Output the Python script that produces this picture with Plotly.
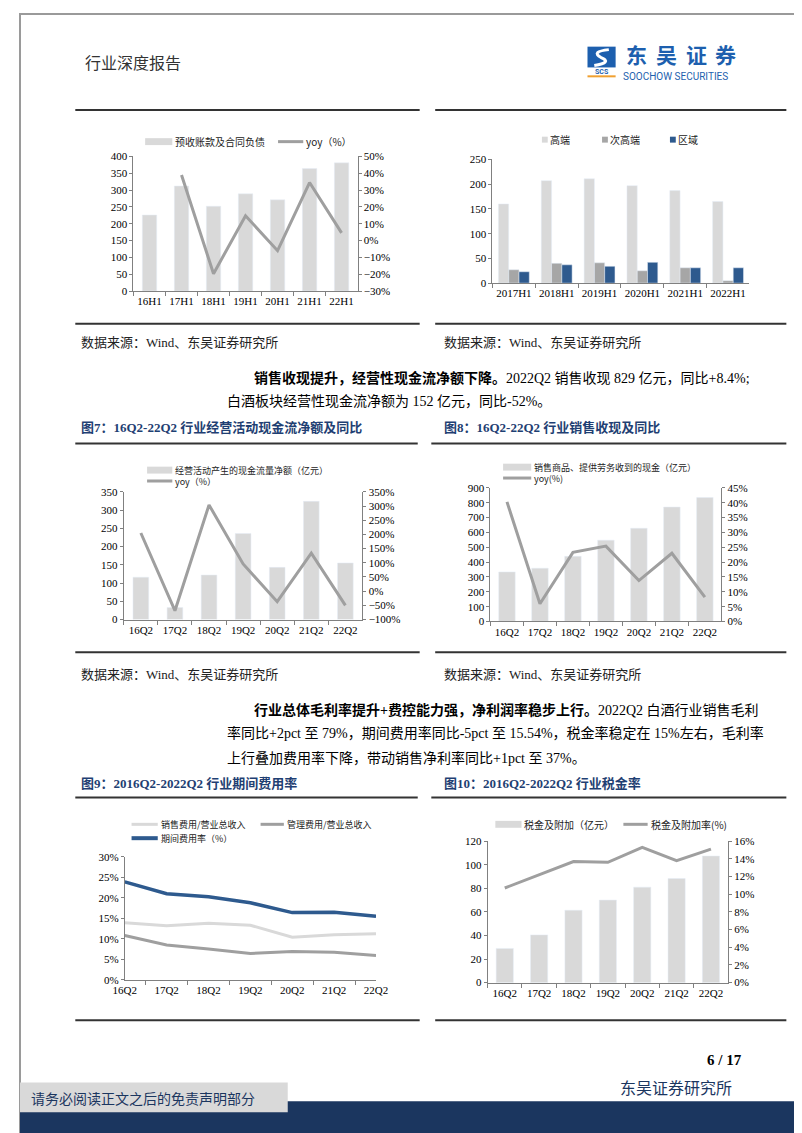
import plotly.graph_objects as go

W, H = 802, 1133


def px(x):
    return x / W


def py(y):
    return 1 - y / H


# ---- data ----
h1_labels = ["16H1", "17H1", "18H1", "19H1", "20H1", "21H1", "22H1"]
advance_receipts = [226, 312, 252, 289, 271, 364, 381]
advance_yoy = [None, 39.0, -19.7, 14.8, -6.0, 34.5, 4.6]

tier_labels = ["2017H1", "2018H1", "2019H1", "2020H1", "2021H1", "2022H1"]
high_end = [160, 207, 211, 197, 187, 165]
sub_high_end = [27, 40, 41, 25, 31, 5]
regional = [23, 37, 34, 42, 31, 31]

q2_labels = ["16Q2", "17Q2", "18Q2", "19Q2", "20Q2", "21Q2", "22Q2"]
op_cash_flow = [116, 33, 122, 236, 143, 324, 155]
op_cash_yoy = [205, -69, 304, 96, -37, 134, -50]
sales_cash = [334, 359, 439, 548, 628, 771, 835]
sales_cash_yoy = [40.3, 6.0, 23.3, 25.4, 13.8, 23.0, 8.2]
selling_ratio = [13.9, 13.2, 13.8, 13.3, 10.4, 11.0, 11.2]
admin_ratio = [10.8, 8.5, 7.5, 6.4, 6.9, 6.7, 5.9]
period_ratio = [23.9, 21.0, 20.3, 18.8, 16.4, 16.5, 15.5]
tax_surcharge = [29, 40.5, 61.4, 70, 81, 88.3, 107.4]
tax_rate = [10.7, 12.2, 13.7, 13.6, 15.3, 13.8, 15.1]

BAR = "#d9d9d9"
MID = "#a6a6a6"
LINE = "#9f9f9f"
BLUE = "#2e5a8e"
NAVY = "#1b365f"
AX = "#808080"
SERIF = "Liberation Serif, Noto Sans CJK SC"
CJK = "Noto Sans CJK SC"
TICKF = dict(family=SERIF, size=11, color="#000")

fig = go.Figure()

# chart 1
fig.add_trace(go.Bar(x=h1_labels, y=advance_receipts, marker_color=BAR, width=0.45, xaxis="x", yaxis="y"))
fig.add_trace(go.Scatter(x=h1_labels, y=advance_yoy, mode="lines", line=dict(color=LINE, width=3), xaxis="x", yaxis="y2"))
# chart 2
for vals, col, off in [(high_end, BAR, -0.36), (sub_high_end, MID, -0.12), (regional, BLUE, 0.12)]:
    fig.add_trace(go.Bar(x=tier_labels, y=vals, marker_color=col, width=0.24, offset=off, xaxis="x2", yaxis="y3"))
# chart 3
fig.add_trace(go.Bar(x=q2_labels, y=op_cash_flow, marker_color=BAR, width=0.46, xaxis="x3", yaxis="y4"))
fig.add_trace(go.Scatter(x=q2_labels, y=op_cash_yoy, mode="lines", line=dict(color=LINE, width=3), xaxis="x3", yaxis="y5"))
# chart 4
fig.add_trace(go.Bar(x=q2_labels, y=sales_cash, marker_color=BAR, width=0.5, xaxis="x4", yaxis="y6"))
fig.add_trace(go.Scatter(x=q2_labels, y=sales_cash_yoy, mode="lines", line=dict(color=LINE, width=3), xaxis="x4", yaxis="y7"))
# chart 5
fig.add_trace(go.Scatter(x=q2_labels, y=selling_ratio, mode="lines", line=dict(color=BAR, width=3), xaxis="x5", yaxis="y8"))
fig.add_trace(go.Scatter(x=q2_labels, y=admin_ratio, mode="lines", line=dict(color=LINE, width=3), xaxis="x5", yaxis="y8"))
fig.add_trace(go.Scatter(x=q2_labels, y=period_ratio, mode="lines", line=dict(color=BLUE, width=3.5), xaxis="x5", yaxis="y8"))
# chart 6
fig.add_trace(go.Bar(x=q2_labels, y=tax_surcharge, marker_color=BAR, width=0.5, xaxis="x6", yaxis="y9"))
fig.add_trace(go.Scatter(x=q2_labels, y=tax_rate, mode="lines", line=dict(color=LINE, width=3), xaxis="x6", yaxis="y10"))


def xcfg(x0, x1, anchor):
    return dict(domain=[px(x0), px(x1)], anchor=anchor, type="category", showline=True, linecolor=AX,
                ticks="outside", tickson="boundaries", ticklen=4, tickcolor=AX, tickfont=TICKF,
                tickangle=0, showgrid=False, zeroline=False)


def ycfg(y0, y1, anchor, rng, dtick, suffix="", side="left", overlaying=None):
    d = dict(domain=[py(y1), py(y0)], anchor=anchor, range=rng, dtick=dtick, ticksuffix=suffix,
             side=side, showline=True, linecolor=AX, ticks="outside", ticklen=3, tickcolor=AX,
             tickfont=TICKF, showgrid=False, zeroline=False)
    if overlaying:
        d["overlaying"] = overlaying
    return d


layout = dict(
    width=W, height=H, margin=dict(l=0, r=0, t=0, b=0),
    paper_bgcolor="white", plot_bgcolor="rgba(0,0,0,0)",
    showlegend=False, barmode="overlay",
    xaxis=xcfg(117, 348, "y"),
    yaxis=ycfg(144, 280, "x", [0, 400], 50),
    yaxis2=ycfg(144, 280, "x", [-30, 50], 10, "%", "right", "y"),
    xaxis2=xcfg(487, 752, "y3"),
    yaxis3=ycfg(147, 272, "x2", [0, 250], 50),
    xaxis3=xcfg(107, 353, "y4"),
    yaxis4=ycfg(483, 612, "x3", [0, 350], 50),
    yaxis5=ycfg(483, 612, "x3", [-100, 350], 50, "%", "right", "y4"),
    xaxis4=xcfg(485, 723, "y6"),
    yaxis6=ycfg(479, 614, "x4", [0, 900], 100),
    yaxis7=ycfg(479, 614, "x4", [0, 45], 5, "%", "right", "y6"),
    xaxis5=xcfg(108, 367, "y8"),
    yaxis8=ycfg(852, 976, "x5", [0, 30], 5, "%"),
    xaxis6=xcfg(482, 730, "y9"),
    yaxis9=ycfg(836, 979, "x6", [0, 120], 20),
    yaxis10=ycfg(836, 979, "x6", [0, 16], 2, "%", "right", "y9"),
)
fig.update_layout(**layout)

shapes = []
annots = []


def hline(x0, x1, y, color="#333", w=2):
    shapes.append(dict(type="line", xref="paper", yref="paper", x0=px(x0), x1=px(x1), y0=py(y), y1=py(y),
                       line=dict(color=color, width=w)))


def rect(x0, y0, x1, y1, color, line=None):
    shapes.append(dict(type="rect", xref="paper", yref="paper", x0=px(x0), x1=px(x1), y0=py(y1), y1=py(y0),
                       fillcolor=color, line=dict(width=0) if line is None else line, layer="below"))


def text(x, y, s, size=10, color="#000", family=CJK, anchor="left", bold=False):
    if bold:
        s = "<b>" + s + "</b>"
    annots.append(dict(xref="paper", yref="paper", x=px(x), y=py(y), text=s, showarrow=False,
                       xanchor=anchor, yanchor="middle", borderpad=0,
                       font=dict(family=family, size=size, color=color)))


def leg_bar(x0, x1, y, color, s, h=7, size=10):
    rect(x0, y - h / 2, x1, y + h / 2, color)
    text(x1 + 2, y, s, size, "#222")


def leg_line(x0, x1, y, color, s, w=3, size=10):
    shapes.append(dict(type="line", xref="paper", yref="paper", x0=px(x0), x1=px(x1), y0=py(y), y1=py(y),
                       line=dict(color=color, width=w)))
    text(x1 + 2, y, s, size, "#222")


# page frame
rect(0, 0, W, H, "rgba(0,0,0,0)", line=dict(color="#9a9a9a", width=2))

# header
text(66, 49, "行业深度报告", 16, "#333")
rect(585, 33, 614, 54, "#1d5fae")
shapes.append(dict(type="path", xref="paper", yref="paper",
                   path="M %f %f Q %f %f %f %f Q %f %f %f %f" % (
                       px(607), py(36), px(588), py(38), px(599), py(44),
                       px(611), py(49), px(592), py(52)),
                   line=dict(color="white", width=3)))
text(599.5, 58.5, "SCS", 7, "#1d5fae", "Roboto", "center", bold=True)
hline(585, 614, 63, "#f0a030", 2)
for i, ch in enumerate("东吴证券"):
    text(636 + i * 30.5, 40, ch, 21, "#1d5fae", anchor="center", bold=True)
text(621, 63, "SOOCHOW SECURITIES", 10, "#1d5fae", "Roboto")

for y in (97, 313, 645, 1017):
    hline(57, 412, y)
    hline(428, 790, y)
hline(57, 410, 434)
hline(424, 790, 434)
hline(57, 410, 792)
hline(424, 790, 792)

# chart legends
leg_bar(129, 157, 129, BAR, "预收账款及合同负债")
leg_line(266, 292, 129, LINE, "yoy（%）")
for x, col, s in [(538, BAR, "高端"), (600, MID, "次高端"), (670, BLUE, "区域")]:
    rect(x, 124, x + 6, 130, col)
    text(x + 7, 127, s, 10, "#222")
leg_bar(131, 157, 461, BAR, "经营活动产生的现金流量净额（亿元）", 7, 9)
leg_line(131, 157, 472, LINE, "yoy（%）", 3, 9)
leg_bar(498, 527, 458, BAR, "销售商品、提供劳务收到的现金（亿元）", 7, 9)
leg_line(498, 527, 469, LINE, "yoy(%)", 3, 9)
leg_line(115, 142, 819, BAR, "销售费用/营业总收入", 3, 9)
leg_line(248, 272, 819, LINE, "管理费用/营业总收入", 3, 9)
leg_line(115, 142, 833, BLUE, "期间费用率（%）", 4, 9)
leg_bar(490, 517, 819, BAR, "税金及附加（亿元）")
leg_line(622, 647, 819, LINE, "税金及附加率(%)")

# source lines
for y in (332, 668):
    text(62, y, "数据来源：Wind、东吴证券研究所", 13, "#222", SERIF)
    text(436, y, "数据来源：Wind、东吴证券研究所", 13, "#222", SERIF)

# body text
text(240, 368, "<b>销售收现提升，经营性现金流净额下降。</b>2022Q2 销售收现 829 亿元，同比+8.4%;", 14, "#000", SERIF)
text(212, 392, "白酒板块经营性现金流净额为 152 亿元，同比-52%。", 14, "#000", SERIF)
text(240, 703, "<b>行业总体毛利率提升+费控能力强，净利润率稳步上行。</b>2022Q2 白酒行业销售毛利", 14, "#000", SERIF)
text(212, 727, "率同比+2pct 至 79%，期间费用率同比-5pct 至 15.54%，税金率稳定在 15%左右，毛利率", 14, "#000", SERIF)
text(212, 752, "上行叠加费用率下降，带动销售净利率同比+1pct 至 37%。", 14, "#000", SERIF)

# figure titles
TITLE = "#1f3f73"
text(62, 418, "图7：16Q2-22Q2 行业经营活动现金流净额及同比", 13, TITLE, SERIF, bold=True)
text(436, 418, "图8：16Q2-22Q2 行业销售收现及同比", 13, TITLE, SERIF, bold=True)
text(62, 778, "图9：2016Q2-2022Q2 行业期间费用率", 13, TITLE, SERIF, bold=True)
text(436, 778, "图10：2016Q2-2022Q2 行业税金率", 13, TITLE, SERIF, bold=True)

# footer
text(745, 1057, "6 / 17", 15, "#000", SERIF, "right", bold=True)
text(735, 1084, "东吴证券研究所", 16, NAVY, CJK, "right")
rect(0, 1099, W, H, NAVY)
rect(0, 1080, 276, 1110, "#d9d9d9")
text(10, 1096, "请务必阅读正文之后的免责声明部分", 14, NAVY, CJK)

fig.update_layout(shapes=shapes, annotations=annots)
fig.write_html("out.html")
